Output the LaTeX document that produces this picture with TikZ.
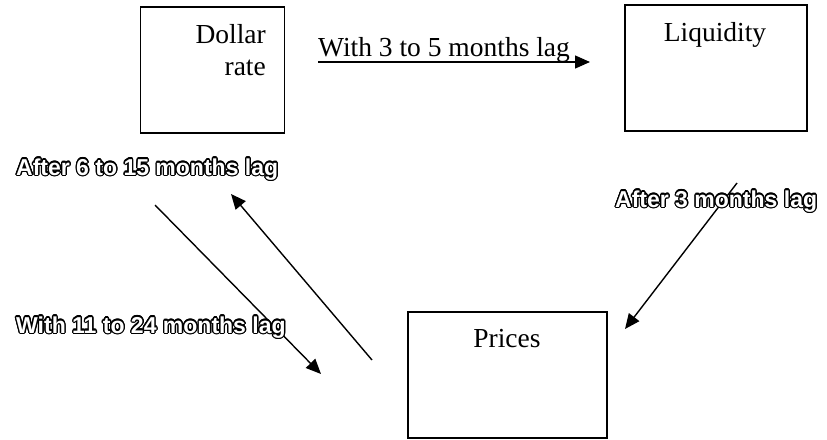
\documentclass[tikz,border=0pt]{standalone}
\usepackage{fontspec}
\setmainfont{Liberation Serif}
\newfontfamily\lagfont{Liberation Sans}[BoldFont={Liberation Sans Bold}]
\usepackage[copies]{contour}
\contourlength{1.3pt}
\usetikzlibrary{arrows.meta}
\tikzset{
  box/.style={draw, line width=1.6pt, inner sep=0pt},
  boxtext/.style={font=\fontsize{27.5}{32}\selectfont, inner sep=0pt},
  conn/.style={line width=1.4pt, -{Triangle[length=15pt,width=13pt]}},
  laglbl/.style={font=\lagfont\bfseries\fontsize{23}{26}\selectfont, text=white, inner sep=0pt, anchor=base west},
  toplbl/.style={font=\fontsize{27.5}{32}\selectfont, inner sep=0pt, anchor=base west}
}
\newcommand{\outl}[1]{\contour{black}{#1}}
\begin{document}
\begin{tikzpicture}[x=1pt,y=-1pt]
\useasboundingbox (0,0) rectangle (827,439);
% boxes
\node[box, minimum width=144pt, minimum height=126pt] (dollar) at (212.5,70) {};
\node[box, minimum width=182pt, minimum height=126pt] (liquidity) at (716,68) {};
\node[box, minimum width=199pt, minimum height=126pt] (prices) at (507.5,375) {};
\node[boxtext, align=right, anchor=base east] (dollarlbl) at (266,75) {Dollar\\rate};
\node[boxtext, anchor=base] (liqlbl) at (715,41) {Liquidity};
\node[boxtext, anchor=base] (prilbl) at (507,347) {Prices};
% arrow Dollar -> Liquidity
\coordinate (a1s) at (318,62);
\coordinate (a1e) at (590,62);
\draw[conn] (a1s) -- (a1e);
\node[toplbl] (l1) at (318,56) {With 3 to 5 months lag};
% Prices -> Dollar
\coordinate (a2s) at (372,360);
\coordinate (a2e) at (231,194);
\draw[conn] (a2s) -- (a2e);
% Dollar -> Prices
\coordinate (a3s) at (155,205);
\coordinate (a3e) at (321,374);
\draw[conn] (a3s) -- (a3e);
% Liquidity -> Prices
\coordinate (a4s) at (737,183);
\coordinate (a4e) at (625,329);
\draw[conn] (a4s) -- (a4e);
% outlined labels
\node[laglbl] (l2) at (16,175) {\outl{After 6 to 15 months lag}};
\node[laglbl] (l3) at (615,207) {\outl{After 3 months lag}};
\node[laglbl] (l4) at (16,333) {\outl{With 11 to 24 months lag}};
\end{tikzpicture}
\end{document}
